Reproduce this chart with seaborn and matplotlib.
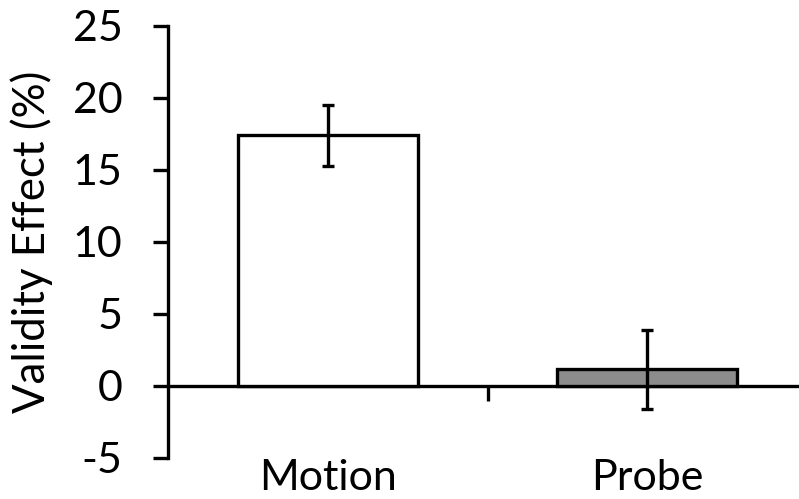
import matplotlib
matplotlib.use("Agg")
import matplotlib.pyplot as plt
import seaborn as sns

# Validity effect per condition (mean and standard error, %)
categories = ["Motion", "Probe"]
effect = [17.4, 1.15]
sem = [2.1, 2.75]
bar_colors = ["white", "#8c8c8c"]
y_ticks = [-5, 0, 5, 10, 15, 20, 25]

sns.set_style("ticks", {"axes.edgecolor": "black", "text.color": "black",
                        "axes.labelcolor": "black", "xtick.color": "black",
                        "ytick.color": "black"})
plt.rcParams["font.family"] = ["Lato", "DejaVu Sans"]

LW = 2.4
fig = plt.figure(figsize=(7.99, 4.99), dpi=100)
ax = fig.add_axes([0.2103, 0.0822, 0.7997, 0.8657])

sns.barplot(x=categories, y=effect, hue=categories, palette=bar_colors,
            legend=False, errorbar=None, edgecolor="black", linewidth=LW,
            width=0.5625, ax=ax)
ax.errorbar(x=range(len(categories)), y=effect, yerr=sem, fmt="none",
            ecolor="black", elinewidth=LW, capsize=4.3, capthick=LW, zorder=5)

ymin, ymax = y_ticks[0], y_ticks[-1]
ax.set_xlim(-0.5, 1.5)
ax.set_ylim(ymin, ymax)
ax.set_yticks(y_ticks)
ax.set_yticklabels([str(t) for t in y_ticks])

# category labels along the bottom, no tick marks
ax.tick_params(axis="x", length=0, pad=1, labelsize=31, colors="black")
ax.tick_params(axis="y", direction="out", length=10.8, width=LW, pad=22,
               labelsize=31, colors="black")

for side in ("top", "right", "bottom"):
    ax.spines[side].set_visible(False)
ax.spines["left"].set_linewidth(LW)
ax.spines["left"].set_color("black")

# zero line with a divider tick between the categories
zero = ax.secondary_xaxis((0 - ymin) / (ymax - ymin))
zero.set_xticks([0.5])
zero.set_xticklabels([""])
zero.tick_params(direction="out", length=10.8, width=LW, colors="black")
zero.spines["bottom"].set_linewidth(LW)
zero.spines["bottom"].set_color("black")

ax.set_xlabel("")
ax.set_ylabel("Validity Effect (%)", fontsize=31.5, color="black")
ax.yaxis.set_label_coords(-0.18, 0.5)

fig.savefig("out.png", dpi=100)
